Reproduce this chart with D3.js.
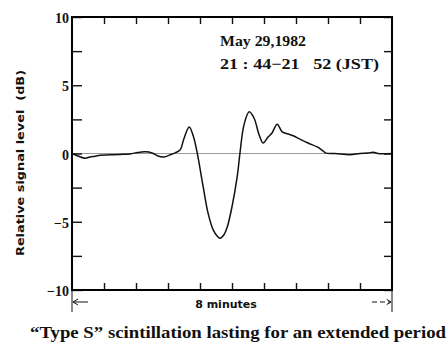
<!DOCTYPE html>
<html>
<head>
<meta charset="utf-8">
<script src="https://cdn.jsdelivr.net/npm/d3@7"></script>
<style>
  body { margin: 0; background: #fff; }
  svg { display: block; }
  .serif { font-family: "Liberation Serif", "DejaVu Serif", serif; font-weight: bold; }
  .sans { font-family: "DejaVu Sans", "Liberation Sans", sans-serif; font-weight: bold; }
</style>
</head>
<body>
<div id="chart"></div>
<script>
// signal trace (minutes, dB)
var time_min = [0, 0.15, 0.33, 0.45, 0.58, 0.7, 0.95, 1.2, 1.45, 1.65, 1.83, 2.0, 2.15, 2.3, 2.45, 2.58,
    2.7, 2.8, 2.93, 3.03, 3.13, 3.28, 3.4, 3.53, 3.63, 3.7, 3.8, 3.88, 4.0, 4.13, 4.2, 4.3, 4.43,
    4.55, 4.68, 4.78, 4.9, 5.0, 5.13, 5.25, 5.38, 5.53, 5.7, 5.9, 6.13, 6.25, 6.35, 6.58, 6.95,
    7.2, 7.4, 7.53, 7.65, 8.0];
var level_db = [0, -0.18, -0.35, -0.25, -0.2, -0.12, -0.1, -0.07, -0.03, 0.08, 0.12, 0.04, -0.18, -0.25, -0.1, 0.05,
    0.25, 1.1, 1.95, 1.3, 0.05, -2.45, -4.35, -5.6, -6.05, -6.2, -5.95, -5.4, -3.9, -1.7, 0.05, 2.1, 3.05,
    2.6, 1.35, 0.77, 1.2, 1.5, 2.15, 1.6, 1.45, 1.3, 1.05, 0.77, 0.48, 0.25, 0.03, 0, -0.1,
    0, 0.03, 0.1, 0, 0];

var y_ticks = [-10, -7.5, -5, -2.5, 0, 2.5, 5, 7.5, 10];
var y_labels = [-10, -5, 0, 5, 10];
var x_ticks = [0.8, 1.6, 2.4, 3.2, 4.0, 4.8, 5.6, 6.4, 7.2];

var W = 448, H = 344;
var margin = { top: 17, right: 56, bottom: 54, left: 72 },
    width = W - margin.left - margin.right,
    height = H - margin.top - margin.bottom;

var svg = d3.select("#chart").append("svg")
    .attr("width", W)
    .attr("height", H);

var g = svg.append("g")
    .attr("transform", "translate(" + margin.left + "," + margin.top + ")");

var x = d3.scaleLinear().domain([0, 8]).range([0, width]);
var y = d3.scaleLinear().domain([-10, 10]).range([height, 0]);

// zero line
g.append("line")
    .attr("x1", 0).attr("x2", width)
    .attr("y1", y(0)).attr("y2", y(0))
    .attr("stroke", "#9a9a9a")
    .attr("stroke-width", 1);

// inward ticks on all 4 sides
function tickStyle(sel) {
    sel.select(".domain").remove();
    sel.selectAll(".tick line").attr("stroke", "#111").attr("stroke-width", 1.4);
    sel.selectAll(".tick text").remove();
}
g.append("g").call(d3.axisLeft(y).tickValues(y_ticks).tickSize(-10)).call(tickStyle);
g.append("g").attr("transform", "translate(" + width + ",0)")
    .call(d3.axisRight(y).tickValues(y_ticks).tickSize(-8)).call(tickStyle);
g.append("g").attr("transform", "translate(0," + height + ")")
    .call(d3.axisBottom(x).tickValues(x_ticks).tickSize(-7)).call(tickStyle);
g.append("g")
    .call(d3.axisTop(x).tickValues(x_ticks).tickSize(-7)).call(tickStyle);

// frame
g.append("rect")
    .attr("width", width).attr("height", height)
    .attr("fill", "none")
    .attr("stroke", "#000")
    .attr("stroke-width", 2);

// y labels
g.selectAll(".ylab")
    .data(y_labels)
    .enter()
    .append("text")
    .attr("class", "serif")
    .attr("x", -3)
    .attr("y", d => y(d) + 6)
    .attr("text-anchor", "end")
    .attr("font-size", 14)
    .attr("fill", "#111")
    .text(d => d < 0 ? "\u2212" + Math.abs(d) : d);

// trace
var line = d3.line()
    .x((d, i) => x(time_min[i]))
    .y(d => y(d))
    .curve(d3.curveCatmullRom);

g.append("path")
    .datum(level_db)
    .attr("d", line)
    .attr("fill", "none")
    .attr("stroke", "#111")
    .attr("stroke-width", 1.5);

// annotation
g.append("text").attr("class", "serif")
    .attr("x", 148).attr("y", 29)
    .attr("font-size", 15).attr("fill", "#111")
    .attr("textLength", 86).attr("lengthAdjust", "spacingAndGlyphs")
    .text("May 29,1982");
g.append("text").attr("class", "serif")
    .attr("x", 148).attr("y", 52)
    .attr("font-size", 15).attr("fill", "#111")
    .attr("textLength", 159).attr("lengthAdjust", "spacingAndGlyphs")
    .style("white-space", "pre")
    .text("21 : 44\u221221   52 (JST)");

// y axis title
svg.append("text").attr("class", "sans")
    .attr("transform", "translate(24,163) rotate(-90)")
    .attr("text-anchor", "middle")
    .attr("font-size", 11).attr("fill", "#111")
    .attr("textLength", 186).attr("lengthAdjust", "spacingAndGlyphs")
    .style("white-space", "pre")
    .text("Relative signal level  (dB)");

// 8 minutes span marker
var span = svg.append("g").attr("transform", "translate(" + margin.left + "," + (margin.top + height) + ")");
span.append("line").attr("x1", 0).attr("x2", 0).attr("y1", 0).attr("y2", 22)
    .attr("stroke", "#111").attr("stroke-width", 1);
span.append("line").attr("x1", width).attr("x2", width).attr("y1", 0).attr("y2", 22)
    .attr("stroke", "#111").attr("stroke-width", 1);
span.append("path").attr("d", "M1,12 L16,12 M1,12 L6,9 M1,12 L6,15")
    .attr("stroke", "#111").attr("fill", "none");
span.append("path").attr("d", "M" + (width - 20) + ",12 L" + (width - 1) + ",12 M" + (width - 1) + ",12 L" + (width - 6) + ",9 M" + (width - 1) + ",12 L" + (width - 6) + ",15")
    .attr("stroke", "#111").attr("fill", "none").attr("stroke-dasharray", "5,3");
span.append("text").attr("class", "sans")
    .attr("x", 154).attr("y", 18)
    .attr("text-anchor", "middle")
    .attr("font-size", 11).attr("fill", "#111")
    .text("8 minutes");

// caption
svg.append("text").attr("class", "serif")
    .attr("x", 30).attr("y", 338)
    .attr("font-size", 17).attr("fill", "#111")
    .attr("textLength", 416).attr("lengthAdjust", "spacingAndGlyphs")
    .text("\u201cType S\u201d scintillation lasting for an extended period");
</script>
</body>
</html>
